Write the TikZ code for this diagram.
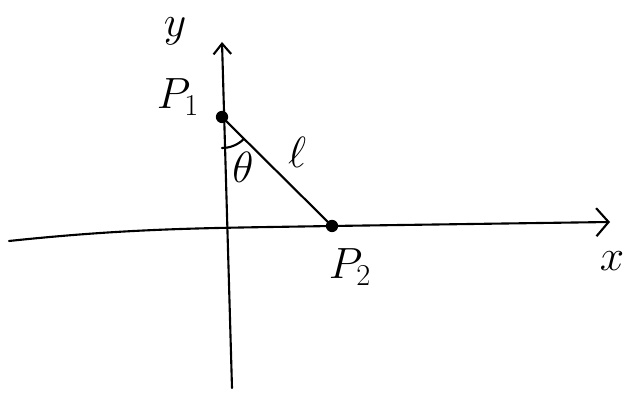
\documentclass[tikz,border=0pt]{standalone}
\usepackage{amsmath}
\usepackage{tikz}
\usetikzlibrary{arrows.meta, positioning}

\tikzset{
  axis/.style={line width=1.2pt, line cap=round},
  pt/.style={circle, fill, inner sep=0pt, minimum size=7pt},
  lbl/.style={inner sep=0pt, font=\fontsize{24}{28}\selectfont},
}

\begin{document}
\begin{tikzpicture}
				\useasboundingbox (0,0) rectangle (12.5,7.92);
				% Axes:
				\coordinate (yB) at (4.64, 0.16);
				\coordinate (yT) at (4.44, 7.08);
				\coordinate (xL) at (0.18, 3.10);
				\coordinate (xR) at (12.2, 3.48);
				\node[pt](P1) at (4.44, 5.58){};
				\node[pt](P2) at (6.64, 3.40){};
				\draw[axis, -{Straight Barb[length=6pt, width=10pt]}] (yB) -- (yT);
				\draw[axis, -{Straight Barb[length=7pt, width=16pt]}] (xL) to[out=6, in=181] (P2.center) -- (xR);
				% Segment and angle:
				\draw[axis] (P1.center) -- (P2.center);
				\draw[axis] ([shift={(-90:0.62)}]P1.center) arc[start angle=-90, end angle=-45, radius=0.62];
				% Labels:
				\node[lbl](Ly) at (3.50, 7.30){$y$};
				\node[lbl](LP1) at (3.56, 5.98){$P_1$};
				\node[lbl](Ll) at (5.94, 4.88){$\ell$};
				\node[lbl](Lt) at (4.86, 4.58){$\theta$};
				\node[lbl](LP2) at (7.00, 2.58){$P_2$};
				\node[lbl](Lx) at (12.24, 2.70){$x$};
			\end{tikzpicture}
\end{document}
